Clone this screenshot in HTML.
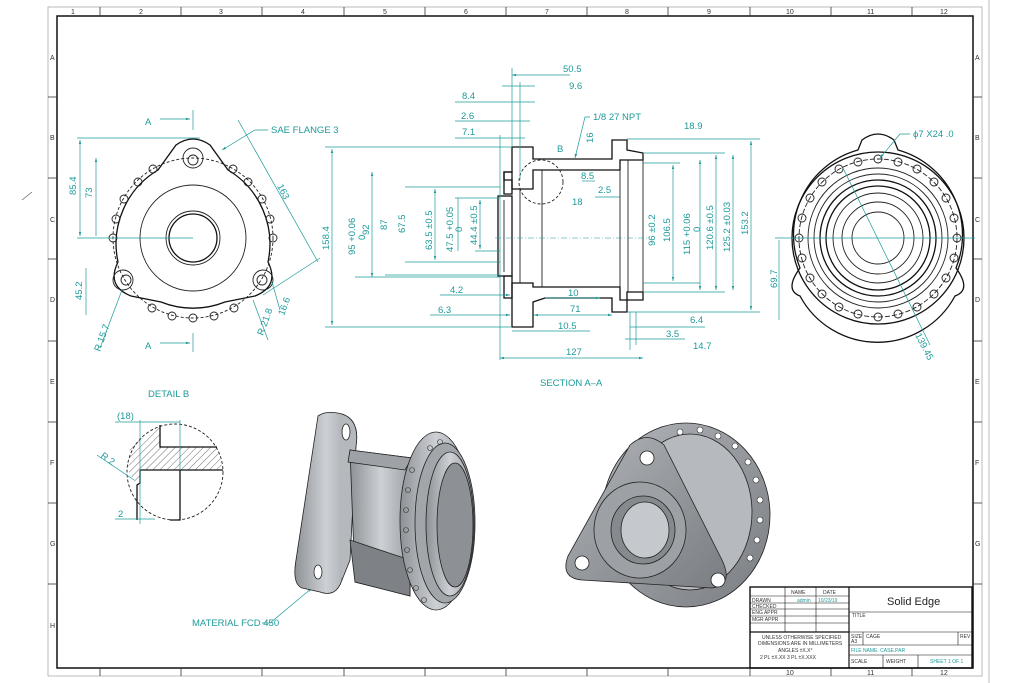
<!DOCTYPE html>
<html><head><meta charset="utf-8"><style>
html,body{margin:0;padding:0;background:#fff;}
svg{display:block;}
text{font-family:"Liberation Sans",sans-serif;}
.t{fill:#1e9a9a;font-size:9.5px;}
.d{stroke:#1e9a9a;stroke-width:0.7;fill:none;}
.k{stroke:#222;stroke-width:0.9;fill:none;}
.kb{stroke:#111;stroke-width:1.3;fill:none;}
.c{stroke:#1e9a9a;stroke-width:0.6;fill:none;stroke-dasharray:6 2 1 2;}
.tb{font-size:5px;fill:#333;}
</style></head><body>
<svg width="1024" height="683" viewBox="0 0 1024 683" xmlns="http://www.w3.org/2000/svg">
<defs>
<pattern id="h" width="5" height="5" patternUnits="userSpaceOnUse" patternTransform="rotate(45)">
<line x1="0" y1="0" x2="0" y2="5" stroke="#333" stroke-width="0.7"/></pattern>
<linearGradient id="g1" x1="0" x2="1" y1="0" y2="0"><stop offset="0" stop-color="#8e9297"/><stop offset="0.5" stop-color="#cdd0d4"/><stop offset="1" stop-color="#9a9ea3"/></linearGradient>
<linearGradient id="g2" x1="0" x2="1" y1="0" y2="1"><stop offset="0" stop-color="#b0b4b8"/><stop offset="1" stop-color="#7a7e83"/></linearGradient>
<marker id="a" viewBox="0 0 10 10" refX="10" refY="5" markerWidth="6" markerHeight="6" orient="auto-start-reverse"><path d="M0,2 L10,5 L0,8z" fill="#1e9a9a"/></marker>
</defs>

<!-- frame -->
<line x1="989" y1="0" x2="989" y2="683" stroke="#bbb" stroke-width="1"/>
<rect x="48" y="7" width="934" height="669" fill="none" stroke="#aaa" stroke-width="0.8"/>
<rect x="57" y="16" width="916" height="652" fill="none" stroke="#111" stroke-width="1.5"/>
<g stroke="#333" stroke-width="0.8">
<line x1="100" y1="7" x2="100" y2="16"/><line x1="181" y1="7" x2="181" y2="16"/><line x1="262" y1="7" x2="262" y2="16"/><line x1="344" y1="7" x2="344" y2="16"/><line x1="425" y1="7" x2="425" y2="16"/><line x1="506" y1="7" x2="506" y2="16"/><line x1="587" y1="7" x2="587" y2="16"/><line x1="668" y1="7" x2="668" y2="16"/><line x1="750" y1="7" x2="750" y2="16"/><line x1="831" y1="7" x2="831" y2="16"/><line x1="912" y1="7" x2="912" y2="16"/>
<line x1="100" y1="668" x2="100" y2="676"/><line x1="181" y1="668" x2="181" y2="676"/><line x1="262" y1="668" x2="262" y2="676"/><line x1="344" y1="668" x2="344" y2="676"/><line x1="425" y1="668" x2="425" y2="676"/><line x1="506" y1="668" x2="506" y2="676"/><line x1="587" y1="668" x2="587" y2="676"/><line x1="668" y1="668" x2="668" y2="676"/><line x1="750" y1="668" x2="750" y2="676"/><line x1="831" y1="668" x2="831" y2="676"/><line x1="912" y1="668" x2="912" y2="676"/>
<line x1="48" y1="97" x2="57" y2="97"/><line x1="48" y1="178" x2="57" y2="178"/><line x1="48" y1="259" x2="57" y2="259"/><line x1="48" y1="341" x2="57" y2="341"/><line x1="48" y1="422" x2="57" y2="422"/><line x1="48" y1="503" x2="57" y2="503"/><line x1="48" y1="584" x2="57" y2="584"/>
<line x1="973" y1="97" x2="982" y2="97"/><line x1="973" y1="178" x2="982" y2="178"/><line x1="973" y1="259" x2="982" y2="259"/><line x1="973" y1="341" x2="982" y2="341"/><line x1="973" y1="422" x2="982" y2="422"/><line x1="973" y1="503" x2="982" y2="503"/><line x1="973" y1="584" x2="982" y2="584"/>
</g>
<g font-size="7" fill="#333">
<text x="71" y="14">1</text><text x="139" y="14">2</text><text x="219" y="14">3</text><text x="301" y="14">4</text><text x="383" y="14">5</text><text x="464" y="14">6</text><text x="545" y="14">7</text><text x="625" y="14">8</text><text x="707" y="14">9</text><text x="786" y="14">10</text><text x="867" y="14">11</text><text x="940" y="14">12</text>
<text x="786" y="675">10</text><text x="867" y="675">11</text><text x="940" y="675">12</text>
<text x="50" y="60">A</text><text x="50" y="140">B</text><text x="50" y="222">C</text><text x="50" y="302">D</text><text x="50" y="384">E</text><text x="50" y="465">F</text><text x="50" y="546">G</text><text x="50" y="628">H</text>
<text x="975" y="60">A</text><text x="975" y="140">B</text><text x="975" y="222">C</text><text x="975" y="302">D</text><text x="975" y="384">E</text><text x="975" y="465">F</text><text x="975" y="546">G</text>
</g>
<line x1="22" y1="200" x2="32" y2="192" stroke="#555" stroke-width="0.6"/>

<!-- LEFT VIEW -->
<g>
<path class="kb" d="M176,145 Q193,133 210,145 L228,170 A86,86 0 0 1 268,262 Q280,286 255,296 L225,302 A86,86 0 0 1 161,302 L131,296 Q106,286 118,262 A86,86 0 0 1 158,170 Z"/>
<circle cx="193" cy="238" r="80" class="k" stroke-dasharray="3 2" stroke-width="0.6"/>
<circle cx="193" cy="238" r="53" class="k"/>
<circle cx="193" cy="238" r="27" class="k"/>
<circle cx="193" cy="238" r="24" class="kb"/>
<circle cx="193" cy="158" r="10" class="k"/><circle cx="193" cy="160" r="5" class="k"/>
<circle cx="123" cy="280" r="10" class="k"/><circle cx="126" cy="280" r="5" class="k"/>
<circle cx="263" cy="280" r="10" class="k"/><circle cx="262" cy="280" r="5" class="k"/>
<g class="k" stroke-width="0.8">
<circle cx="153" cy="169" r="4"/><circle cx="138" cy="182" r="4"/><circle cx="124" cy="199" r="4"/><circle cx="116" cy="219" r="4"/><circle cx="113" cy="238" r="4"/>
<circle cx="233" cy="169" r="4"/><circle cx="248" cy="182" r="4"/><circle cx="262" cy="199" r="4"/><circle cx="270" cy="219" r="4"/><circle cx="273" cy="238" r="4"/>
<circle cx="152" cy="308" r="4"/><circle cx="172" cy="316" r="4"/><circle cx="193" cy="318" r="4"/><circle cx="214" cy="316" r="4"/><circle cx="234" cy="308" r="4"/>
</g>
<line class="d" x1="193" y1="110" x2="193" y2="130"/>
<line class="d" x1="160" y1="119" x2="190" y2="119" marker-end="url(#a)"/>
<text class="t" x="145" y="125" font-size="12">A</text>
<line class="d" x1="193" y1="333" x2="193" y2="352"/>
<line class="d" x1="160" y1="343" x2="190" y2="343" marker-end="url(#a)"/>
<text class="t" x="145" y="349" font-size="12">A</text>
<line class="d" x1="77" y1="138" x2="200" y2="138"/><line class="d" x1="77" y1="238" x2="193" y2="238"/>
<line class="d" x1="80" y1="140" x2="80" y2="236" marker-start="url(#a)" marker-end="url(#a)"/>
<text class="t" transform="translate(76,195) rotate(-90)">85.4</text>
<line class="d" x1="96" y1="158" x2="96" y2="236" marker-start="url(#a)"/>
<text class="t" transform="translate(92,198) rotate(-90)">73</text>
<line class="d" x1="86" y1="268" x2="86" y2="315"/>
<text class="t" transform="translate(82,300) rotate(-90)">45.2</text>
<line class="d" x1="238" y1="120" x2="318" y2="262"/><line class="d" x1="263" y1="295" x2="320" y2="258"/>
<text class="t" transform="translate(277,186) rotate(63)">163</text>
<path class="d" d="M268,130 L255,130 L222,150" marker-end="url(#a)"/>
<text class="t" x="271" y="133" font-size="9">SAE FLANGE 3</text>
<line class="d" x1="122" y1="290" x2="100" y2="348"/>
<text class="t" transform="translate(100,352) rotate(-70)" font-size="9">R 15.7</text>
<line class="d" x1="253" y1="300" x2="268" y2="340"/>
<text class="t" transform="translate(263,336) rotate(-70)" font-size="9">R 21.8</text>
<line class="d" x1="272" y1="282" x2="280" y2="310"/>
<text class="t" transform="translate(284,316) rotate(-70)" font-size="9">16.6</text>
</g>

<!-- SECTION A-A -->
<g>
<path fill="url(#h)" class="kb" d="M512,147 L533,147 L533,159 L612,159 L612,140 L627,140 L627,150 L643,153 L643,160 L620,160 L620,170 L533,170 L533,189 L512,189 L512,180 L504,180 L504,172 L512,172Z"/>
<path fill="url(#h)" class="kb" d="M504,172 L512,172 L512,194 L504,194Z"/>
<path fill="url(#h)" class="kb" d="M504,276 L512,276 L512,298 L504,298Z"/>
<path fill="url(#h)" class="kb" d="M512,283 L533,283 L533,287 L620,287 L620,300 L643,300 L643,292 L627,292 L627,312 L612,312 L612,298 L545,298 L533,302 L533,327 L512,327 L512,302 L512,298Z"/>
<rect x="498" y="196" width="14" height="80" class="kb"/>
<line class="k" x1="504" y1="200" x2="504" y2="272"/>
<line class="k" x1="520" y1="189" x2="520" y2="283"/>
<line class="k" x1="542" y1="170" x2="542" y2="287"/>
<line class="k" x1="620" y1="170" x2="620" y2="287"/>
<line class="k" x1="628" y1="160" x2="628" y2="292"/>
<line class="k" x1="643" y1="160" x2="643" y2="292"/>
<circle cx="541" cy="182" r="22" class="k" stroke-dasharray="3 2" stroke-width="0.6"/>
<text class="t" x="557" y="152" font-size="12">B</text>
<line class="c" x1="495" y1="238" x2="650" y2="238"/>
</g>
<!-- section dims -->
<g>
<line class="d" x1="325" y1="147" x2="512" y2="147"/><line class="d" x1="325" y1="327" x2="512" y2="327"/>
<line class="d" x1="332" y1="149" x2="332" y2="325" marker-start="url(#a)" marker-end="url(#a)"/>
<text class="t" transform="translate(329,250) rotate(-90)">158.4</text>
<text class="t" transform="translate(355,255) rotate(-90)">95 +0.06</text><text class="t" transform="translate(365,240) rotate(-90)">0</text>
<line class="d" x1="372" y1="172" x2="372" y2="277" marker-start="url(#a)" marker-end="url(#a)"/>
<text class="t" transform="translate(369,235) rotate(-90)">92</text>
<text class="t" transform="translate(387,230) rotate(-90)">87</text>
<line class="d" x1="355" y1="277" x2="500" y2="277"/><line class="d" x1="385" y1="275" x2="500" y2="275"/>
<text class="t" transform="translate(405,233) rotate(-90)">67.5</text>
<line class="d" x1="405" y1="187" x2="500" y2="187"/><line class="d" x1="405" y1="262" x2="500" y2="262"/>
<line class="d" x1="435" y1="189" x2="435" y2="260" marker-start="url(#a)" marker-end="url(#a)"/>
<text class="t" transform="translate(432,250) rotate(-90)">63.5 ±0.5</text>
<text class="t" transform="translate(453,252) rotate(-90)">47.5 +0.05</text><text class="t" transform="translate(462,232) rotate(-90)">0</text>
<line class="d" x1="458" y1="198" x2="458" y2="251"/><line class="d" x1="455" y1="198" x2="500" y2="198"/><line class="d" x1="475" y1="251" x2="500" y2="251"/>
<line class="d" x1="480" y1="200" x2="480" y2="249" marker-start="url(#a)" marker-end="url(#a)"/>
<text class="t" transform="translate(477,245) rotate(-90)">44.4 ±0.5</text>
<line class="d" x1="512" y1="68" x2="512" y2="147"/><line class="d" x1="520" y1="82" x2="520" y2="180"/><line class="d" x1="500" y1="135" x2="500" y2="360"/>
<line class="d" x1="512" y1="75" x2="570" y2="75" marker-start="url(#a)"/><text class="t" x="563" y="72">50.5</text>
<line class="d" x1="502" y1="86" x2="535" y2="86"/><text class="t" x="569" y="89">9.6</text>
<line class="d" x1="455" y1="102" x2="535" y2="102"/><text class="t" x="462" y="99">8.4</text>
<line class="d" x1="455" y1="121" x2="530" y2="121"/><text class="t" x="461" y="119">2.6</text>
<line class="d" x1="455" y1="138" x2="525" y2="138"/><text class="t" x="462" y="135">7.1</text>
<path class="d" d="M590,117 L585,117 L575,158" marker-end="url(#a)"/><text class="t" x="593" y="120">1/8   27 NPT</text>
<text class="t" transform="translate(593,143) rotate(-90)">16</text>
<text class="t" x="684" y="129">18.9</text>
<line class="d" x1="627" y1="139" x2="760" y2="139"/>
<line class="d" x1="582" y1="181" x2="595" y2="181"/><text class="t" x="581" y="179">8.5</text>
<text class="t" x="598" y="193">2.5</text><line class="d" x1="595" y1="197" x2="620" y2="197"/>
<text class="t" x="572" y="205">18</text>
<line class="d" x1="643" y1="153" x2="725" y2="153"/><line class="d" x1="643" y1="292" x2="725" y2="292"/>
<line class="d" x1="643" y1="163" x2="680" y2="163"/><line class="d" x1="643" y1="283" x2="700" y2="283"/>
<text class="t" transform="translate(655,246) rotate(-90)">96 ±0.2</text>
<line class="d" x1="673" y1="165" x2="673" y2="281" marker-start="url(#a)" marker-end="url(#a)"/>
<text class="t" transform="translate(670,242) rotate(-90)">106.5</text>
<line class="d" x1="700" y1="160" x2="700" y2="290" marker-start="url(#a)" marker-end="url(#a)"/>
<text class="t" transform="translate(690,255) rotate(-90)">115 +0.06</text><text class="t" transform="translate(700,232) rotate(-90)">0</text>
<line class="d" x1="716" y1="155" x2="716" y2="290" marker-start="url(#a)" marker-end="url(#a)"/>
<text class="t" transform="translate(713,250) rotate(-90)">120.6 ±0.5</text>
<line class="d" x1="733" y1="155" x2="733" y2="290" marker-start="url(#a)" marker-end="url(#a)"/>
<text class="t" transform="translate(730,252) rotate(-90)">125.2 ±0.03</text>
<line class="d" x1="751" y1="141" x2="751" y2="310" marker-start="url(#a)" marker-end="url(#a)"/>
<text class="t" transform="translate(748,235) rotate(-90)">153.2</text>
<line class="d" x1="627" y1="312" x2="760" y2="312"/>
<line class="d" x1="440" y1="295" x2="510" y2="295" marker-end="url(#a)"/><text class="t" x="450" y="293">4.2</text>
<line class="d" x1="430" y1="315" x2="510" y2="315" marker-end="url(#a)"/><text class="t" x="438" y="313">6.3</text>
<line class="d" x1="545" y1="298" x2="600" y2="298" marker-end="url(#a)"/><text class="t" x="568" y="296">10</text>
<line class="d" x1="534" y1="315" x2="612" y2="315" marker-start="url(#a)" marker-end="url(#a)"/><text class="t" x="570" y="312">71</text>
<line class="d" x1="512" y1="331" x2="590" y2="331"/><text class="t" x="558" y="329">10.5</text>
<line class="d" x1="500" y1="358" x2="643" y2="358" marker-start="url(#a)" marker-end="url(#a)"/><text class="t" x="566" y="355">127</text>
<line class="d" x1="630" y1="327" x2="705" y2="327"/><text class="t" x="690" y="323">6.4</text>
<line class="d" x1="625" y1="339" x2="685" y2="339"/><text class="t" x="666" y="337">3.5</text>
<text class="t" x="693" y="349">14.7</text>
<line class="d" x1="630" y1="312" x2="630" y2="350"/><line class="d" x1="636" y1="312" x2="636" y2="345"/>
<text class="t" x="540" y="386" font-size="11">SECTION  A–A</text>
</g>

<!-- RIGHT VIEW -->
<g>
<path class="kb" d="M862,140 Q878,128 894,140 L898,150 A88,88 0 0 1 956,268 Q972,290 955,296 A88,88 0 0 1 800,296 Q784,290 800,268 A88,88 0 0 1 858,150Z"/>
<circle cx="878" cy="238" r="86" class="kb"/>
<circle cx="878" cy="238" r="79" class="k" stroke-dasharray="5 2" stroke-width="0.6"/>
<circle cx="878" cy="238" r="70" class="k"/><circle cx="878" cy="238" r="64" class="k"/>
<circle cx="878" cy="238" r="58" class="kb"/><circle cx="878" cy="238" r="52" class="kb"/>
<circle cx="878" cy="238" r="45" class="k"/><circle cx="878" cy="238" r="36" class="k"/><circle cx="878" cy="238" r="26" class="k"/>
<g class="k" stroke-width="0.8">
<circle cx="957" cy="238" r="4"/><circle cx="954" cy="258" r="4"/><circle cx="946" cy="278" r="4"/><circle cx="934" cy="294" r="4"/><circle cx="917" cy="307" r="4"/><circle cx="898" cy="314" r="4"/><circle cx="878" cy="317" r="4"/><circle cx="858" cy="314" r="4"/><circle cx="839" cy="307" r="4"/><circle cx="822" cy="294" r="4"/><circle cx="810" cy="278" r="4"/><circle cx="802" cy="258" r="4"/><circle cx="799" cy="238" r="4"/><circle cx="802" cy="218" r="4"/><circle cx="810" cy="198" r="4"/><circle cx="822" cy="182" r="4"/><circle cx="839" cy="169" r="4"/><circle cx="858" cy="162" r="4"/><circle cx="878" cy="159" r="4"/><circle cx="898" cy="162" r="4"/><circle cx="917" cy="169" r="4"/><circle cx="934" cy="182" r="4"/><circle cx="946" cy="198" r="4"/><circle cx="954" cy="218" r="4"/>
</g>
<line class="d" x1="775" y1="238" x2="975" y2="238"/>
<line class="d" x1="843" y1="168" x2="930" y2="345"/>
<text class="t" transform="translate(915,335) rotate(63)" font-size="9">139.45</text>
<path class="d" d="M910,134 L900,134 L880,158" marker-end="url(#a)"/>
<text class="t" x="913" y="137" font-size="10">ϕ7 X24 .0</text>
<line class="d" x1="779" y1="240" x2="779" y2="320"/>
<text class="t" transform="translate(777,288) rotate(-90)" font-size="9">69.7</text>
</g>

<!-- DETAIL B -->
<g>
<text class="t" x="148" y="397" font-size="11">DETAIL  B</text>
<circle cx="175" cy="472" r="48" class="k" stroke-dasharray="3 2" stroke-width="0.6"/>
<path fill="url(#h)" d="M160,425 L160,447 L217,447 L223,470 L140,470 L140,483 L135,483 L128,470 L130,447 Z"/>
<path class="kb" d="M160,425 L160,447 L217,447 M140,470 L223,470 M140,470 L140,483 L137,485 L137,520 M180,470 L180,520 L170,520"/>
<line class="d" x1="140" y1="420" x2="140" y2="524"/><line class="d" x1="180" y1="420" x2="180" y2="470"/>
<line class="d" x1="115" y1="422" x2="180" y2="422"/><text class="t" x="117" y="419">(18)</text>
<line class="d" x1="97" y1="455" x2="134" y2="480"/><text class="t" transform="translate(100,457) rotate(35)">R 2</text>
<line class="d" x1="115" y1="519" x2="155" y2="519"/><text class="t" x="118" y="517">2</text>
<text class="t" x="192" y="626" font-size="9">MATERIAL FCD 450</text>
<path class="d" d="M262,623 L270,623 L312,588" marker-end="url(#a)"/>
</g>

<!-- 3D LEFT -->
<g stroke="#222" stroke-width="0.8">
<path fill="url(#g1)" d="M318,416 Q326,410 342,414 Q360,420 356,446 L342,580 Q336,598 320,592 L302,588 Q292,584 296,560 Z"/>
<path fill="#b5b9be" d="M342,414 Q360,420 356,446 L350,560 L342,580"/>
<path fill="url(#g1)" d="M350,450 L412,458 L410,596 L355,582 Z"/>
<path fill="#7e8287" d="M350,540 L410,560 L410,596 L355,582 Z"/>
<path fill="#9ea2a7" d="M350,450 L412,458 L405,470 L348,462Z"/>
<ellipse cx="436" cy="521" rx="36" ry="89" fill="url(#g1)"/>
<ellipse cx="445" cy="523" rx="30" ry="80" fill="#a2a6ab"/>
<ellipse cx="450" cy="524" rx="24" ry="72" fill="url(#g1)"/>
<ellipse cx="455" cy="525" rx="18" ry="62" fill="#8d9196"/>
<g fill="none" stroke="#333" stroke-width="0.6"><circle cx="412" cy="470" r="2.5"/><circle cx="408" cy="490" r="2.5"/><circle cx="406" cy="510" r="2.5"/><circle cx="406" cy="530" r="2.5"/><circle cx="407" cy="550" r="2.5"/><circle cx="410" cy="570" r="2.5"/><circle cx="416" cy="588" r="2.5"/><circle cx="424" cy="600" r="2.5"/><circle cx="430" cy="448" r="2.5"/><circle cx="440" cy="442" r="2.5"/></g>
<ellipse cx="346" cy="432" rx="4" ry="8" fill="#fff"/><ellipse cx="318" cy="572" rx="4" ry="7" fill="#fff"/>
</g>

<!-- 3D RIGHT -->
<g stroke="#222" stroke-width="0.8">
<ellipse cx="686" cy="515" rx="84" ry="92" fill="url(#g2)"/>
<ellipse cx="690" cy="512" rx="62" ry="78" fill="#b6b9bd"/>
<path fill="url(#g2)" d="M630,445 Q647,430 664,445 L722,560 Q734,585 712,588 L582,580 Q560,578 568,556 Z"/>
<ellipse cx="640" cy="530" rx="46" ry="48" fill="#9da1a6"/>
<ellipse cx="643" cy="530" rx="32" ry="34" fill="#868a8f"/>
<ellipse cx="645" cy="530" rx="24" ry="28" fill="#c5c8cc"/>
<circle cx="647" cy="458" r="7" fill="#fff"/><circle cx="582" cy="563" r="7" fill="#fff"/><circle cx="718" cy="580" r="7" fill="#fff"/>
<g fill="#fff" stroke="#333" stroke-width="0.6"><circle cx="680" cy="432" r="3"/><circle cx="700" cy="430" r="3"/><circle cx="718" cy="436" r="3"/><circle cx="735" cy="446" r="3"/><circle cx="748" cy="462" r="3"/><circle cx="756" cy="480" r="3"/><circle cx="760" cy="500" r="3"/><circle cx="760" cy="520" r="3"/><circle cx="757" cy="540" r="3"/><circle cx="750" cy="558" r="3"/></g>
</g>

<!-- TITLE BLOCK -->
<g stroke="#111" fill="none">
<rect x="750" y="587" width="222" height="81" stroke-width="1.4"/>
<line x1="849" y1="587" x2="849" y2="668" stroke-width="1.2"/>
<line x1="750" y1="632" x2="849" y2="632" stroke-width="1.2"/>
<g stroke-width="0.6">
<line x1="785" y1="587" x2="785" y2="632"/><line x1="816" y1="587" x2="816" y2="632"/>
<line x1="750" y1="596" x2="849" y2="596"/><line x1="750" y1="603" x2="849" y2="603"/><line x1="750" y1="609" x2="849" y2="609"/><line x1="750" y1="616" x2="849" y2="616"/><line x1="750" y1="623" x2="849" y2="623"/>
<line x1="849" y1="612" x2="972" y2="612"/><line x1="849" y1="632" x2="972" y2="632"/><line x1="849" y1="645" x2="972" y2="645"/><line x1="849" y1="655" x2="972" y2="655"/>
<line x1="863" y1="632" x2="863" y2="645"/><line x1="958" y1="632" x2="958" y2="645"/>
<line x1="883" y1="655" x2="883" y2="668"/><line x1="918" y1="655" x2="918" y2="668"/>
</g>
</g>
<text x="887" y="605" font-size="11" fill="#222">Solid Edge</text>
<g class="tb">
<text x="791" y="594">NAME</text><text x="823" y="594">DATE</text>
<text x="752" y="602">DRAWN</text><text x="752" y="608">CHECKED</text><text x="752" y="614">ENG APPR</text><text x="752" y="621">MGR APPR</text>
<text x="852" y="617">TITLE</text>
<text x="762" y="639">UNLESS OTHERWISE SPECIFIED</text>
<text x="758" y="645">DIMENSIONS ARE IN MILLIMETERS</text>
<text x="778" y="652">ANGLES ±X.X°</text>
<text x="760" y="659">2 PL ±X.XX 3 PL ±X.XXX</text>
<text x="851" y="638">SIZE</text><text x="851" y="643">A3</text><text x="866" y="638">CAGE</text><text x="960" y="638">REV</text>
<text x="851" y="663">SCALE</text><text x="886" y="663">WEIGHT</text>
</g>
<text x="797" y="602" font-size="5" fill="#1e9a9a">admin</text><text x="818" y="602" font-size="5" fill="#1e9a9a">10/23/19</text>
<text x="851" y="652" font-size="5" fill="#1e9a9a">FILE NAME: CASE.PAR</text>
<text x="930" y="663" font-size="5" fill="#1e9a9a">SHEET 1 OF 1</text>
</svg>
</body></html>
